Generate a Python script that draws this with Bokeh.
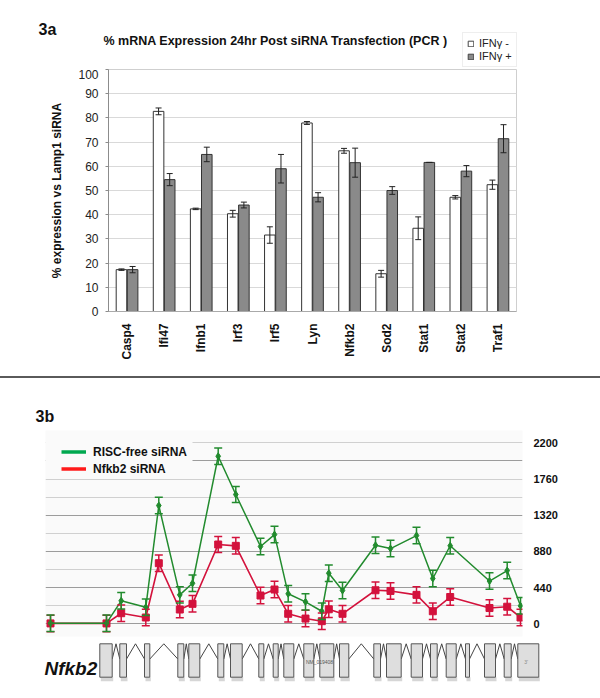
from math import pi
from bokeh.plotting import figure
from bokeh.layouts import column
from bokeh.models import (ColumnDataSource, Whisker, Legend, LegendItem, Label,
                          FixedTicker, Range1d, FactorRange, BoxAnnotation,
                          Div, TeeHead, Grid)
from bokeh.transform import dodge
from bokeh.embed import file_html
from bokeh.resources import INLINE

FONT = "Liberation Sans"
NAN = float("nan")

# ---------------- 3a data ----------------
genes = ["Casp4", "Ifi47", "Ifnb1", "Irf3", "Irf5", "Lyn", "Nfkb2", "Sod2", "Stat1", "Stat2", "Traf1"]
ifn_minus = [17.3, 82.7, 42.4, 40.4, 31.6, 77.9, 66.4, 15.6, 34.4, 47.2, 52.4]
ifn_minus_err = [0.3, 1.4, 0.3, 1.4, 3.4, 0.6, 1.0, 1.4, 4.7, 0.7, 1.9]
ifn_plus = [17.3, 54.5, 64.9, 44.0, 59.0, 47.2, 61.5, 50.0, 61.6, 58.0, 71.4]
ifn_plus_err = [1.3, 2.5, 3.0, 1.2, 5.9, 1.9, 6.0, 1.6, 0.0, 2.3, 5.8]
a_ticks = [0, 10, 20, 30, 40, 50, 60, 70, 80, 90, 100]

# ---------------- 3b data ----------------
probe_pos = [5, 61, 75.7, 100.3, 113.3, 134.3, 147, 172.7, 190.3, 215, 229, 242.7,
             260, 276.3, 283.3, 297, 330, 345, 371, 387.3, 404.7, 444, 461.7, 475]
risc_free = [8, 8, 280, 202, 1438, 352, 493, 2037, 1572, 940, 1085, 365,
             267, 153, 615, 405, 955, 915, 1073, 551, 949, 520, 648, 219]
risc_err = [100, 100, 100, 100, 100, 100, 100, 100, 97, 100, 100, 100,
            100, 100, 100, 100, 100, 100, 101, 100, 100, 100, 100, 100]
nfkb2_si = [5, 5, 129, 77, 737, 174, 243, 964, 948, 344, 417, 122,
            64, 32, 177, 122, 408, 400, 352, 153, 326, 192, 208, 77]
nfkb2_err = [100, 100, 100, 100, 100, 100, 100, 97, 100, 100, 100, 100,
             100, 100, 100, 100, 101, 100, 100, 100, 100, 100, 100, 100]
b_ticks = [0, 440, 880, 1320, 1760, 2200]
grid_dark = [0, 440, 880, 1320, 1980]
grid_light = [220, 660, 1100, 1540, 1760, 2200]

# gene model (same relative position scale as probes)
exon_start = [54.3, 74.3, 99, 132.3, 143.3, 172.3, 185, 213.3, 227.7, 238.3, 258.3,
              274.3, 294, 328.3, 341, 365.7, 385, 400.7, 420, 439, 458.7, 472.3]
exon_end = [66.7, 81, 104.3, 138.3, 154.3, 178.3, 196.7, 218.3, 232.7, 248.3, 268.3,
            288.3, 303.3, 335, 355.7, 377, 391.7, 410.7, 424, 450, 465.7, 493.3]


def bare(fig):
    fig.outline_line_color = None
    fig.grid.visible = False
    fig.frame_align = False
    return fig


# ================= header of 3a (panel label, title, legend) =================
hA = bare(figure(width=600, height=69, x_range=Range1d(0, 600), y_range=Range1d(0, 69),
                 x_axis_location=None, y_axis_location=None, min_border=0,
                 output_backend="svg", toolbar_location=None))
hA.add_layout(Label(x=38, y=40, text="3a", text_font=FONT, text_font_size="16px",
                    text_font_style="bold", text_baseline="alphabetic", text_color="#111111"))
hA.add_layout(Label(x=103, y=29, text="% mRNA Expression 24hr Post siRNA Transfection (PCR )",
                    text_font=FONT, text_font_size="12.5px", text_font_style="bold",
                    text_baseline="middle", text_color="#111111"))
sw_w = hA.vbar(x=[NAN], top=[NAN], width=1, fill_color="white", line_color="#444444")
sw_g = hA.vbar(x=[NAN], top=[NAN], width=1, fill_color="#8a8a8a", line_color="#444444")
legA = Legend(items=[LegendItem(label="IFNγ -", renderers=[sw_w]),
                     LegendItem(label="IFNγ +", renderers=[sw_g])],
              location=(462, 2), padding=4, spacing=1, margin=0,
              glyph_width=7, glyph_height=7, label_height=11, label_standoff=5,
              label_text_font=FONT, label_text_font_size="11px", label_text_color="#222222",
              border_line_color="#dddddd", background_fill_color="white", background_fill_alpha=1)
hA.add_layout(legA)

# ================= Figure 3a =================
srcA = ColumnDataSource(dict(
    gene=genes,
    minus=ifn_minus, minus_lo=[v - e for v, e in zip(ifn_minus, ifn_minus_err)],
    minus_hi=[v + e for v, e in zip(ifn_minus, ifn_minus_err)],
    plus=ifn_plus, plus_lo=[v - e for v, e in zip(ifn_plus, ifn_plus_err)],
    plus_hi=[v + e for v, e in zip(ifn_plus, ifn_plus_err)],
))

pa = figure(width=600, height=307, x_range=FactorRange(*genes), y_range=Range1d(0, 100),
            output_backend="svg", toolbar_location=None,
            min_border_left=108, min_border_right=84, min_border_top=0, min_border_bottom=65)
pa.frame_align = False
pa.outline_line_color = "#cfcfcf"

OFF = 0.15
BW = 0.285
pa.vbar(x=dodge("gene", -OFF, range=pa.x_range), top="minus", width=BW, source=srcA,
        fill_color="white", line_color="#333333", line_width=1)
pa.vbar(x=dodge("gene", OFF, range=pa.x_range), top="plus", width=BW, source=srcA,
        fill_color="#8a8a8a", line_color="#333333", line_width=1)

for base, lo, hi in [(-OFF, "minus_lo", "minus_hi"), (OFF, "plus_lo", "plus_hi")]:
    w = Whisker(base=dodge("gene", base, range=pa.x_range), lower=lo, upper=hi, source=srcA,
                line_color="#222222", line_width=1, level="annotation",
                upper_head=TeeHead(size=6, line_color="#222222", line_width=1),
                lower_head=TeeHead(size=6, line_color="#222222", line_width=1))
    pa.add_layout(w)

pa.ygrid.grid_line_color = "#d9d9d9"
pa.xgrid.grid_line_color = None
pa.yaxis.ticker = FixedTicker(ticks=a_ticks)
pa.yaxis.axis_line_color = "#8c8c8c"
pa.yaxis.major_tick_line_color = "#8c8c8c"
pa.yaxis.major_tick_out = 3
pa.yaxis.major_tick_in = 0
pa.yaxis.minor_tick_line_color = None
pa.yaxis.major_label_standoff = 7
pa.yaxis.major_label_text_font = FONT
pa.yaxis.major_label_text_font_size = "12px"
pa.yaxis.major_label_text_color = "#222222"
pa.yaxis.axis_label = "% expression vs Lamp1 siRNA"
pa.yaxis.axis_label_text_font = FONT
pa.yaxis.axis_label_text_font_size = "12px"
pa.yaxis.axis_label_text_font_style = "bold"
pa.yaxis.axis_label_text_color = "#111111"
pa.yaxis.axis_label_standoff = 11

pa.xaxis.axis_line_color = "#aaaaaa"
pa.xaxis.major_tick_line_color = None
pa.xaxis.major_label_orientation = pi / 2
pa.xaxis.major_label_standoff = 6
pa.xaxis.major_label_text_font = FONT
pa.xaxis.major_label_text_font_size = "12px"
pa.xaxis.major_label_text_font_style = "bold"
pa.xaxis.major_label_text_color = "#111111"

# separator line
sep = Div(text="", width=600, height=2, margin=(0, 0, 0, 0),
          styles={"background-color": "#5a5a5a"})

# ================= header of 3b =================
hB = bare(figure(width=600, height=52, x_range=Range1d(0, 600), y_range=Range1d(0, 52),
                 x_axis_location=None, y_axis_location=None, min_border=0,
                 output_backend="svg", toolbar_location=None))
hB.add_layout(Label(x=35, y=14, text="3b", text_font=FONT, text_font_size="16px",
                    text_font_style="bold", text_baseline="alphabetic", text_color="#111111"))

# ================= Figure 3b =================
GREEN = "#228b2e"
RED = "#d3123c"
BG = "#fafafa"

srcB = ColumnDataSource(dict(
    pos=probe_pos,
    g=risc_free, g_lo=[v - e for v, e in zip(risc_free, risc_err)],
    g_hi=[v + e for v, e in zip(risc_free, risc_err)],
    r=nfkb2_si, r_lo=[v - e for v, e in zip(nfkb2_si, nfkb2_err)],
    r_hi=[v + e for v, e in zip(nfkb2_si, nfkb2_err)],
))

pb = figure(width=600, height=210, x_range=Range1d(0, 477), y_range=Range1d(-154, 2350),
            x_axis_location=None, y_axis_location="right",
            output_backend="svg", toolbar_location=None,
            min_border_left=45, min_border_right=78, min_border_top=0, min_border_bottom=4)
pb.frame_align = False
pb.outline_line_color = None
pb.background_fill_color = BG
pb.xgrid.visible = False
pb.ygrid.ticker = FixedTicker(ticks=grid_dark)
pb.ygrid.grid_line_color = "#9c9c9c"
pb.add_layout(Grid(dimension=1, ticker=FixedTicker(ticks=grid_light), grid_line_color="#d0d0d0"))

pb.yaxis.ticker = FixedTicker(ticks=b_ticks)
pb.yaxis.axis_line_color = None
pb.yaxis.major_tick_line_color = None
pb.yaxis.minor_tick_line_color = None
pb.yaxis.major_label_standoff = 5
pb.yaxis.major_label_text_font = FONT
pb.yaxis.major_label_text_font_size = "11px"
pb.yaxis.major_label_text_font_style = "bold"
pb.yaxis.major_label_text_color = "#111111"

for lo, hi, col in [("r_lo", "r_hi", RED), ("g_lo", "g_hi", GREEN)]:
    pb.add_layout(Whisker(base="pos", lower=lo, upper=hi, source=srcB,
                          line_color=col, line_width=1.5, level="glyph",
                          upper_head=TeeHead(size=8, line_color=col, line_width=1.5),
                          lower_head=TeeHead(size=8, line_color=col, line_width=1.5)))

pb.line("pos", "r", source=srcB, line_color=RED, line_width=1.6)
pb.scatter("pos", "r", source=srcB, marker="square", size=7, fill_color=RED, line_color=RED)
pb.line("pos", "g", source=srcB, line_color=GREEN, line_width=1.5)
pb.scatter("pos", "g", source=srcB, marker="diamond", size=7, fill_color=GREEN, line_color=GREEN)

lg = pb.line(x=[NAN, NAN], y=[NAN, NAN], line_color="#00a84f", line_width=3.5)
lr = pb.line(x=[NAN, NAN], y=[NAN, NAN], line_color="#ff1a1a", line_width=3.5)

pb.add_layout(BoxAnnotation(right=147, bottom=1870, fill_color=BG, fill_alpha=1, line_color=None))
legB = Legend(items=[LegendItem(label="RISC-free siRNA", renderers=[lg]),
                     LegendItem(label="Nfkb2 siRNA", renderers=[lr])],
              location=(16, 159), padding=3, spacing=0, margin=0,
              glyph_width=25, glyph_height=17, label_height=17, label_standoff=7,
              label_text_font=FONT, label_text_font_size="12px", label_text_font_style="bold",
              label_text_color="#111111", border_line_color=None,
              background_fill_color=BG, background_fill_alpha=1)
pb.add_layout(legB)

# ================= gene model track =================
pt = bare(figure(width=600, height=56, x_range=Range1d(-45, 555), y_range=Range1d(0, 56),
                 x_axis_location=None, y_axis_location=None,
                 output_backend="svg", toolbar_location=None, min_border=0))

EX_TOP, EX_BOT, EX_MID = 52.7, 19.3, 37.5
pt.quad(left=[s + 1 for s in exon_start], right=[e + 1 for e in exon_end],
        top=EX_BOT, bottom=EX_BOT - 4, fill_color="#d6d6d6", line_color=None)
pt.multi_line(xs=[[e, (e + s) / 2, s] for e, s in zip(exon_end[:-1], exon_start[1:])],
              ys=[[EX_MID, EX_TOP, EX_MID] for _ in exon_start[1:]],
              line_color="#444444", line_width=1)
pt.quad(left=exon_start, right=exon_end, top=EX_TOP, bottom=EX_BOT,
        fill_color="#dedede", line_color="#555555", line_width=1)

pt.add_layout(Label(x=-1, y=28.3, text="Nfkb2", text_font=FONT, text_font_size="19px",
                    text_font_style="bold italic", text_baseline="alphabetic", text_color="#111111"))
pt.add_layout(Label(x=274, y=34.3, text="NM_019408", text_font=FONT, text_font_size="5px",
                    text_align="center", text_baseline="middle", text_color="#555555"))
pt.add_layout(Label(x=480.7, y=34.3, text="3'", text_font=FONT, text_font_size="5px",
                    text_align="center", text_baseline="middle", text_color="#888888"))

layout = column(hA, pa, sep, hB, pb, pt, spacing=0)
open("out.html", "w").write(file_html(layout, INLINE))
